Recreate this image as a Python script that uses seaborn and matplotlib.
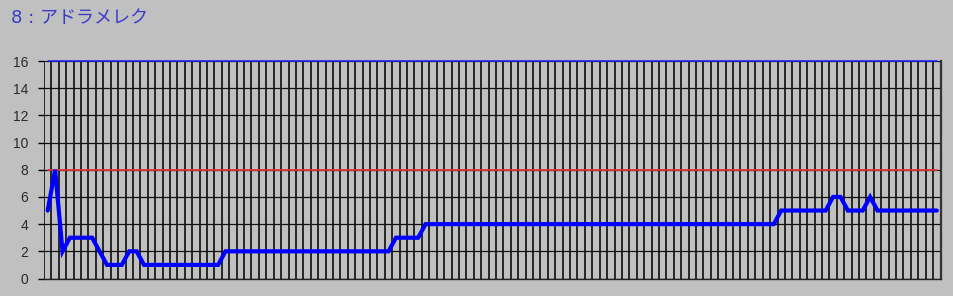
import matplotlib
matplotlib.use("Agg")
import matplotlib.pyplot as plt
import seaborn as sns
import pandas as pd
import numpy as np

# ---- data ----
title_text = "8 : アドラメレク"
values = [5, 8, 2, 3, 3, 3, 3, 2, 1, 1, 1, 2, 2,
          1, 1, 1, 1, 1, 1, 1, 1, 1, 1, 1,
          2, 2, 2, 2, 2, 2, 2, 2, 2, 2, 2, 2, 2, 2, 2, 2, 2, 2, 2, 2, 2, 2, 2,
          3, 3, 3, 3,
          4, 4, 4, 4, 4, 4, 4, 4, 4, 4, 4, 4, 4, 4, 4, 4, 4, 4, 4, 4, 4, 4, 4, 4,
          4, 4, 4, 4, 4, 4, 4, 4, 4, 4, 4, 4, 4, 4, 4, 4, 4, 4, 4, 4, 4, 4, 4, 4,
          5, 5, 5, 5, 5, 5, 5,
          6, 6,
          5, 5, 5,
          6,
          5, 5, 5, 5, 5, 5, 5, 5, 5]
warn_level = 8
max_level = 16
y_ticks = [0, 2, 4, 6, 8, 10, 12, 14, 16]

n = len(values)
idx = list(range(n))
df = pd.DataFrame({"idx": idx, "value": values})
ref_df = pd.DataFrame({"idx": [idx[0], idx[-1]],
                       "warn": [warn_level, warn_level],
                       "max": [max_level, max_level]})

sns.set_theme(style="white")
plt.rcParams['font.family'] = ['Liberation Sans', 'Noto Sans CJK JP', 'DejaVu Sans']

W, H = 954, 296
fig = plt.figure(figsize=(W / 100, H / 100), dpi=100)
bg = "#C0C0C0"
fig.patch.set_facecolor(bg)
ax = fig.add_axes([44 / W, (H - 278.5) / H, (940.5 - 44) / W, (278.5 - 61) / H])
ax.set_facecolor(bg)

# grid
ax.set_xlim(-0.5, n - 0.5)
ax.set_ylim(0, max_level)
ax.set_xticks(np.arange(-0.5, n, 1.0))
ax.set_xticklabels([])
ax.set_yticks(y_ticks)
ax.set_yticklabels([str(t) for t in y_ticks], color="#2a2a2a", fontsize=10)
ax.tick_params(axis="x", length=0)
ax.tick_params(axis="y", length=4.3, width=1.0, color="black", pad=7, left=True)
ax.grid(True, axis="x", color="#0d0d0d", linewidth=1.2)
ax.grid(True, axis="y", color="#111111", linewidth=0.9)
ax.set_axisbelow(True)
for s in ["top", "left"]:
    ax.spines[s].set_visible(False)
ax.spines["bottom"].set_color("#222222")
ax.spines["bottom"].set_linewidth(1.0)
ax.spines["right"].set_color("#333333")
ax.spines["right"].set_linewidth(1.6)

sns.lineplot(data=ref_df, x="idx", y="warn", ax=ax, color="#F03030", linewidth=1.2)
sns.lineplot(data=ref_df, x="idx", y="max", ax=ax, color="#2020F0", linewidth=1.2, clip_on=False)
sns.lineplot(data=df, x="idx", y="value", ax=ax, color="#0000FF", linewidth=3.0,
             solid_joinstyle="miter")

ax.set_xlabel("")
ax.set_ylabel("")

fig.text(11 / W, 1 - 9 / H, title_text, color="#3B3BC8", fontsize=13,
         family=['DejaVu Sans', 'Noto Sans CJK JP'], ha="left", va="top")

fig.savefig("out.png", dpi=100, facecolor=bg)
